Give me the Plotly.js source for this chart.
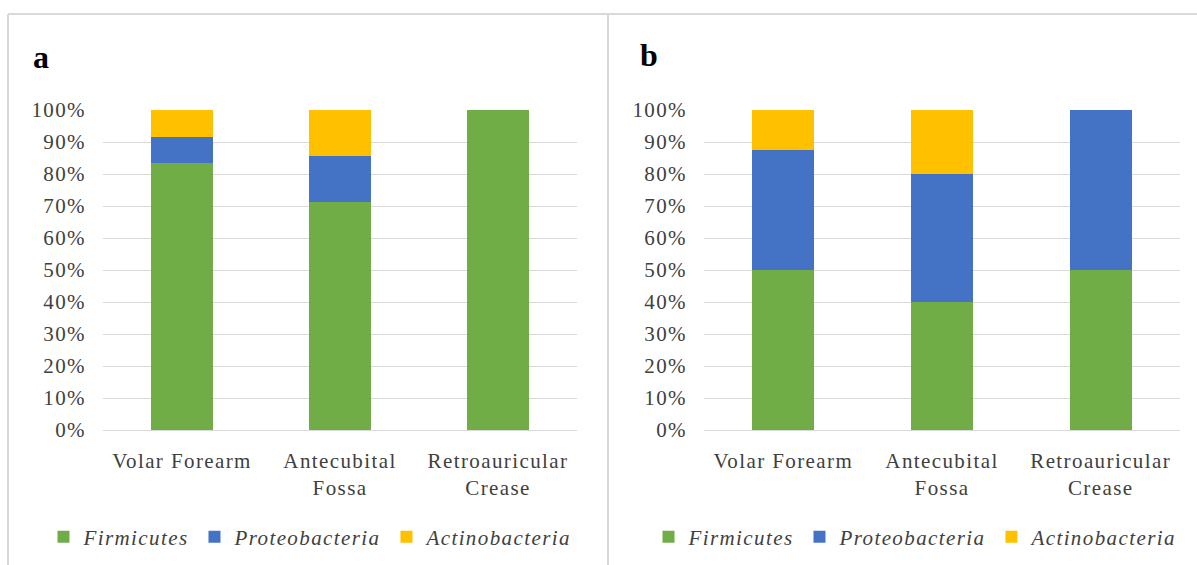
<!DOCTYPE html>
<html>
<head>
<meta charset="utf-8">
<script src="https://cdn.plot.ly/plotly-3.0.1.min.js"></script>
<style>
html,body{margin:0;padding:0;background:#fff;}
#chart{width:1197px;height:565px;}
svg text{letter-spacing:1.4px;}
</style>
</head>
<body>
<div id="chart"></div>
<script>
// Data
const categories = ["Volar Forearm", "Antecubital<br>Fossa", "Retroauricular<br>Crease"];
const seriesNames = ["Firmicutes", "Proteobacteria", "Actinobacteria"];
const seriesColors = ["#70AD47", "#4472C4", "#FFC000"];
// Panel a (percent)
const aFirmicutes = [83.3, 71.4, 100];
const aProteobacteria = [8.3, 14.3, 0];
const aActinobacteria = [8.4, 14.3, 0];
// Panel b (percent)
const bFirmicutes = [50, 40, 50];
const bProteobacteria = [37.5, 40, 50];
const bActinobacteria = [12.5, 20, 0];
const yTickVals = [0,10,20,30,40,50,60,70,80,90,100];
const yTickText = yTickVals.map(v => v + "%");

const aVals = [aFirmicutes, aProteobacteria, aActinobacteria];
const bVals = [bFirmicutes, bProteobacteria, bActinobacteria];

const traces = [];
seriesNames.forEach((n, i) => {
  traces.push({type:'bar', x:categories, y:aVals[i], name:n,
    marker:{color:seriesColors[i]}, xaxis:'x', yaxis:'y', legend:'legend', hoverinfo:'skip'});
});
seriesNames.forEach((n, i) => {
  traces.push({type:'bar', x:categories, y:bVals[i], name:n,
    marker:{color:seriesColors[i]}, xaxis:'x2', yaxis:'y2', legend:'legend2', hoverinfo:'skip'});
});

const W = 1197, H = 565;
const fontFam = 'Liberation Serif, Times New Roman, serif';
const tickFont = {family: fontFam, size: 21, color: '#404040'};

function xax(d0, d1, anchor) {
  return {domain:[d0/W, d1/W], anchor:anchor, tickfont:tickFont, showgrid:false,
    showline:false, zeroline:false, ticks:'', ticklabelstandoff:16, fixedrange:true};
}
function yax(anchor) {
  return {domain:[1-430/H, 1-110/H], anchor:anchor, range:[0,100], tickvals:yTickVals,
    ticktext:yTickText, tickfont:tickFont, showgrid:true, gridcolor:'#d9d9d9', gridwidth:1,
    zeroline:true, zerolinecolor:'#d9d9d9', zerolinewidth:1, showline:false, ticks:'',
    ticklabelstandoff:16, fixedrange:true};
}

const legendFont = {family: fontFam, size: 21, color: '#404040', style: 'italic'};
const layout = {
  width: W, height: H,
  margin: {l:0, r:0, t:0, b:0},
  paper_bgcolor: '#fff', plot_bgcolor: '#fff',
  barmode: 'stack', bargap: 0.61,
  showlegend: true,
  xaxis: xax(103, 577, 'y'),
  yaxis: yax('x'),
  xaxis2: xax(704, 1180, 'y2'),
  yaxis2: yax('x2'),
  legend: {orientation:'h', x:311/W, xanchor:'center', y:1-537/H, yanchor:'middle',
    font:legendFont, traceorder:'normal', itemwidth:30, bgcolor:'rgba(0,0,0,0)'},
  legend2: {orientation:'h', x:916/W, xanchor:'center', y:1-537/H, yanchor:'middle',
    font:legendFont, traceorder:'normal', itemwidth:30, bgcolor:'rgba(0,0,0,0)'},
  annotations: [
    {text:'<b>a</b>', x:31/W, y:1-57/H, xref:'paper', yref:'paper', xanchor:'left', yanchor:'middle',
      showarrow:false, font:{family:fontFam, size:32, color:'#000'}},
    {text:'<b>b</b>', x:638/W, y:1-55/H, xref:'paper', yref:'paper', xanchor:'left', yanchor:'middle',
      showarrow:false, font:{family:fontFam, size:32, color:'#000'}}
  ],
  shapes: [
    {type:'line', xref:'paper', yref:'paper', x0:8/W, x1:8/W, y0:0, y1:1-14/H, line:{color:'#d9d9d9', width:2}},
    {type:'line', xref:'paper', yref:'paper', x0:608/W, x1:608/W, y0:0, y1:1-14/H, line:{color:'#d9d9d9', width:2}},
    {type:'line', xref:'paper', yref:'paper', x0:8/W, x1:1, y0:1-14/H, y1:1-14/H, line:{color:'#d9d9d9', width:2}}
  ]
};

Plotly.newPlot('chart', traces, layout, {displayModeBar:false, staticPlot:true});
</script>
</body>
</html>
